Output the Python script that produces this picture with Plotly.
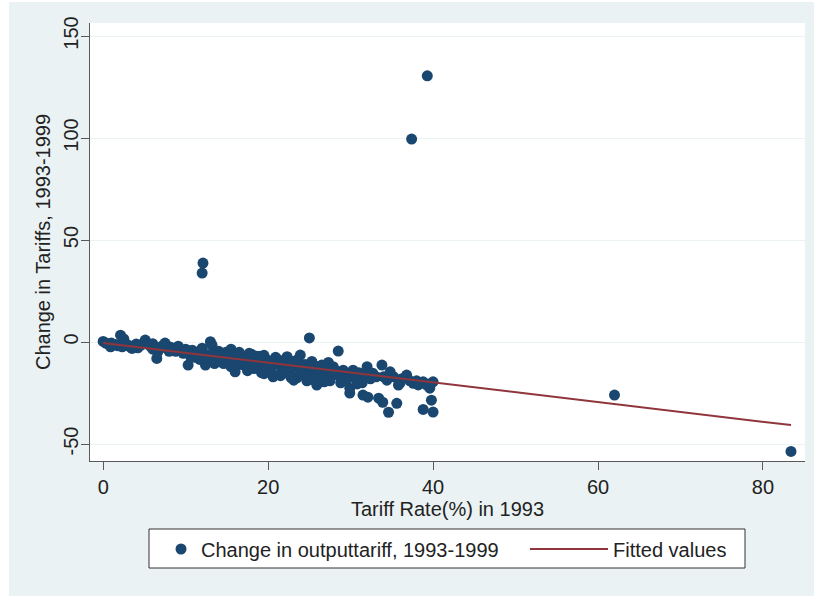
import plotly.graph_objects as go

# ---- data ----
tariff_1993 = [
    0.0, 0.3, 0.6, 0.9, 1.2, 1.5, 1.8, 2.1, 2.3, 2.5, 2.7, 3.0, 3.3, 3.5, 3.8, 4.2, 4.6, 4.9, 5.1, 5.4,
    5.7, 6.0, 6.3, 6.5, 6.6, 6.9, 7.2, 7.5, 7.8, 8.1, 8.5, 8.8, 9.1, 9.4, 9.7, 10.0, 10.3, 10.5, 10.8, 11.1,
    11.4, 11.7, 12.0, 12.2, 12.4, 12.6, 13.0, 13.2, 13.4, 13.7, 14.0, 14.3, 14.6, 14.9, 15.2, 15.5,
    15.7, 16.0, 16.2, 16.5, 16.8, 17.1, 17.4, 17.7, 18.0, 18.3, 18.6, 18.9, 19.2, 19.5, 19.8, 20.0,
    20.3, 20.6, 20.9, 21.2, 21.5, 21.8, 22.1, 22.3, 22.6, 22.9, 23.1, 23.4, 23.6, 23.9, 24.2, 24.5, 24.7, 25.0, 25.3, 25.6,
    25.9, 26.1, 26.5, 26.7, 27.0, 27.3, 27.6, 27.9, 28.2, 28.5, 28.8, 29.1, 29.4, 29.9, 29.9, 30.3, 30.6,
    31.0, 31.4, 31.4, 31.5, 32.1, 32.0, 32.4, 32.7, 33.1, 33.4, 33.8, 33.9, 34.4, 34.6, 34.8, 35.2, 35.6, 35.8,
    36.2, 36.8, 37.2, 37.6, 38.2, 38.8, 38.8, 39.2, 39.6, 39.8, 40.0, 40.0, 39.5,
    1.0, 4.0, 7.0, 9.0, 11.0, 13.0, 15.0, 17.0, 19.0, 21.0, 23.0, 25.0, 27.0, 19.0, 21.0, 23.0, 16.0, 18.0,
    20.0, 22.0, 24.0, 26.0, 28.0, 30.0, 32.0, 34.0, 36.0, 38.0, 20.0, 22.0, 24.0, 26.0, 12.0, 14.0, 10.0,
    8.0, 6.0, 18.0, 16.0, 14.0, 12.0,
    17.5, 19.5, 21.5, 23.5, 25.5, 27.5, 29.5, 15.5, 13.5, 22.8, 24.8, 26.8, 28.8, 30.8,
    39.3, 37.4, 12.1, 12.0, 25.0, 62.0, 83.4,
]
tariff_change = [
    0.3, -0.5, -1.0, -2.3, -1.5, -1.2, -1.8, 3.4, -2.3, 1.5, -0.8, -1.5, -2.5, -3.1, -2.0, -2.8, -1.5, -0.5, 1.0, -1.0,
    -2.0, -0.8, -2.6, -8.0, -5.0, -3.0, -1.8, -0.5, -3.5, -2.4, -3.0, -4.5, -2.0, -4.0, -5.5, -3.5, -11.3, -6.5, -4.0, -7.5,
    -5.0, -8.5, -3.0, -6.0, -11.3, -8.0, 0.2, -1.5, -5.5, -9.0, -4.5, -7.0, -10.5, -5.0, -8.0, -3.5,
    -6.0, -14.6, -9.5, -5.0, -11.0, -7.5, -12.5, -5.5, -9.0, -13.0, -7.0, -10.5, -15.0, -6.5, -12.0, -9.0,
    -14.0, -17.0, -7.5, -11.0, -15.5, -9.0, -13.0, -7.2, -16.0, -10.5, -18.7, -12.5, -8.5, -6.4, -15.0, -11.0, -19.0, -13.5, -9.5, -17.0,
    -21.1, -12.0, -11.3, -18.7, -15.0, -10.0, -16.5, -12.1, -14.0, -4.4, -17.0, -13.8, -15.5, -22.6, -25.0, -13.8, -18.0,
    -15.0, -16.2, -20.0, -26.0, -27.0, -12.1, -18.0, -15.3, -17.0, -27.5, -11.3, -29.5, -18.7, -34.4, -14.6, -17.0, -30.0, -21.1,
    -18.0, -16.2, -19.0, -20.2, -21.0, -19.5, -33.0, -21.0, -22.6, -28.5, -19.5, -34.3, -20.5,
    -0.5, -1.0, -2.5, -3.0, -5.5, -6.0, -7.0, -8.5, -9.0, -10.0, -11.0, -12.0, -13.0, -7.0, -8.0, -9.5, -6.5, -6.0,
    -11.5, -12.0, -13.0, -14.5, -16.0, -16.0, -16.5, -17.0, -20.0, -19.0, -13.0, -14.5, -16.0, -16.5, -4.0, -6.0, -5.0,
    -4.5, -3.5, -11.0, -10.0, -9.0, -8.0,
    -14.0, -15.5, -16.5, -17.5, -18.5, -19.0, -18.5, -12.0, -10.5, -17.5, -18.0, -19.5, -20.0, -20.5,
    130.5, 99.5, 38.7, 33.8, 2.0, -26.0, -53.6,
]
fit_x = [0.0, 83.4]
fit_y = [-0.5, -40.7]

x_ticks = [0, 20, 40, 60, 80]
y_ticks = [-50, 0, 50, 100, 150]

scatter_name = "Change in outputtariff, 1993-1999"
fit_name = "Fitted values"
x_title = "Tariff Rate(%) in 1993"
y_title = "Change in Tariffs, 1993-1999"

# ---- layout geometry ----
W, H = 814, 596
L, R, T, B = 90, 9, 23, 135
pw, ph = W - L - R, H - T - B

BG = "#EAF2F3"
NAVY = "#1A476F"
MAROON = "#90353B"
AXC = "#595959"
FONT = "Liberation Sans, Arial, sans-serif"
FS = 20

fig = go.Figure()
fig.add_trace(go.Scatter(
    x=tariff_1993, y=tariff_change, mode="markers", name=scatter_name,
    marker=dict(color=NAVY, size=11, line=dict(width=0)), legend="legend",
))
fig.add_trace(go.Scatter(
    x=fit_x, y=fit_y, mode="lines", name=fit_name,
    line=dict(color=MAROON, width=2), legend="legend2",
))

def px_x(p):
    return (p - L) / pw

def px_y(p):
    return (H - B - p) / ph

shapes = [
    # white strips at the left and top edge of the image
    dict(type="rect", xref="paper", yref="paper", layer="below",
         x0=px_x(-10), x1=px_x(9), y0=px_y(H + 10), y1=px_y(-10),
         fillcolor="white", line=dict(width=0)),
    dict(type="rect", xref="paper", yref="paper", layer="below",
         x0=px_x(-10), x1=px_x(W + 10), y0=px_y(2), y1=px_y(-10),
         fillcolor="white", line=dict(width=0)),
    # plot region
    dict(type="rect", xref="paper", yref="paper", layer="below",
         x0=0, x1=1, y0=0, y1=1, fillcolor="white", line=dict(width=0)),
    # legend frame
    dict(type="rect", xref="paper", yref="paper", layer="below",
         x0=px_x(149), x1=px_x(745), y0=px_y(568), y1=px_y(529),
         fillcolor="white", line=dict(color="#333333", width=1)),
]

legend_common = dict(
    orientation="h", yanchor="middle", xanchor="left",
    y=px_y(549), bgcolor="rgba(0,0,0,0)", borderwidth=0,
    font=dict(family=FONT, size=FS, color="#222222"),
)

fig.update_layout(
    width=W, height=H, autosize=False,
    margin=dict(l=L, r=R, t=T, b=B, pad=0, autoexpand=False),
    paper_bgcolor=BG, plot_bgcolor="white",
    font=dict(family=FONT, size=FS, color="#222222"),
    shapes=shapes,
    showlegend=True,
    legend=dict(x=px_x(161), itemwidth=30, **legend_common),
    legend2=dict(x=px_x(525), itemwidth=78, **legend_common),
    xaxis=dict(
        range=[-1.6, 85.1], tickvals=x_ticks, ticktext=[str(v) for v in x_ticks],
        showgrid=False, zeroline=False, showline=True, linecolor=AXC, linewidth=1,
        ticks="outside", ticklen=8, tickcolor=AXC, tickwidth=1, automargin=False,
        title=dict(text=x_title, standoff=2, font=dict(size=FS)),
        tickfont=dict(size=FS),
    ),
    yaxis=dict(
        range=[-58.3, 156.4], tickvals=y_ticks, ticktext=[str(v) for v in y_ticks],
        showgrid=True, gridcolor=BG, gridwidth=1, zeroline=False,
        showline=True, linecolor=AXC, linewidth=1, automargin=False,
        ticks="outside", ticklen=8, tickcolor=AXC, tickwidth=1, tickangle=-90,
        ticklabelstandoff=-5,
        title=dict(text=y_title, standoff=4, font=dict(size=FS)),
        tickfont=dict(size=FS),
    ),
)

fig.write_html("out.html", config={"displayModeBar": False},
               post_script="document.body.style.margin='0px';")
